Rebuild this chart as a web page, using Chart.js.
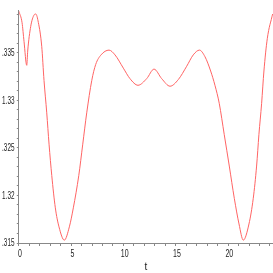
<!DOCTYPE html>
<html>
<head>
<meta charset="utf-8">
<script src="https://cdn.jsdelivr.net/npm/chart.js@4"></script>
<style>
    html, body { margin: 0; padding: 0; background: #fff; }
    #chart-box { width: 273px; height: 273px; }
</style>
</head>
<body>
<div id="chart-box"><canvas id="chart"></canvas></div>
<script>
// values
const tValues = [0.00, 0.31, 0.50, 0.76, 0.85, 1.14, 1.46, 1.62, 1.87, 2.19, 2.41, 2.67, 2.89, 3.15,
    3.49, 3.84, 4.35, 4.83, 5.21, 5.73, 6.11, 6.49, 6.97, 7.35, 7.86, 8.62, 9.19, 9.99, 10.62,
    11.39, 12.22, 12.92, 13.65, 14.45, 15.24, 16.04, 16.67, 17.26, 17.79, 18.33, 18.74, 19.15,
    19.63, 20.11, 20.59, 21.04, 21.45, 21.99, 22.40, 22.72, 22.94, 23.20, 23.42, 23.74, 24.25];
const yValues = [1.3394, 1.3382, 1.3362, 1.3337, 1.3352, 1.3378, 1.3390, 1.3391, 1.3382, 1.3357,
    1.3321, 1.3287, 1.3254, 1.3221, 1.3187, 1.3167, 1.3153, 1.3167, 1.3187, 1.3221, 1.3254,
    1.3287, 1.3321, 1.3338, 1.3348, 1.3353, 1.3348, 1.3334, 1.3323, 1.3316, 1.3323, 1.3333,
    1.3323, 1.3315, 1.3322, 1.3336, 1.3348, 1.3353, 1.3346, 1.3331, 1.3316, 1.3297, 1.3264,
    1.3231, 1.3197, 1.3170, 1.3153, 1.3170, 1.3197, 1.3231, 1.3264, 1.3297, 1.3331, 1.3365, 1.3391];

const xTickValues = [0, 5, 10, 15, 20];
const xTickLabels = ['0', '5', '10', '15', '20'];
const yTickValues = [1.315, 1.32, 1.325, 1.33, 1.335];
const yTickLabels = ['.315', '1.32', '.325', '1.33', '.335'];

const FONT = { family: '"Liberation Sans", sans-serif', size: 10 };

// the original uses a very narrow font, so labels get squeezed sideways
const narrowLabels = {
    id: 'narrowLabels',
    afterDraw(chart) {
        const ctx = chart.ctx;
        const xs = chart.scales.x;
        const ys = chart.scales.y;
        ctx.save();
        ctx.fillStyle = '#222';
        ctx.font = '10px "Liberation Sans", sans-serif';
        ctx.textBaseline = 'middle';

        ctx.textAlign = 'right';
        yTickValues.forEach((v, i) => {
            ctx.save();
            ctx.translate(xs.left - 4.3, ys.getPixelForValue(v) + 0.5);
            ctx.scale(0.64, 1);
            ctx.fillText(yTickLabels[i], 0, 0);
            ctx.restore();
        });

        ctx.textAlign = 'center';
        xTickValues.forEach((v, i) => {
            ctx.save();
            ctx.translate(xs.getPixelForValue(v) + 1.2, ys.bottom + 11.5);
            ctx.scale(0.7, 1);
            ctx.fillText(xTickLabels[i], 0, 0);
            ctx.restore();
        });
        ctx.restore();
    }
};

function createChart(canvas) {
    const points = tValues.map((t, i) => ({ x: t, y: yValues[i] }));

    return new Chart(canvas, {
        type: 'line',
        data: {
            datasets: [{
                data: points,
                borderColor: 'rgb(255,100,100)',
                borderWidth: 1,
                pointRadius: 0,
                cubicInterpolationMode: 'monotone',
                fill: false
            }]
        },
        options: {
            responsive: true,
            maintainAspectRatio: false,
            animation: false,
            layout: { padding: 0 },
            plugins: { legend: { display: false }, tooltip: { enabled: false } },
            scales: {
                x: {
                    type: 'linear',
                    min: 0,
                    max: 24.28,
                    afterBuildTicks: (scale) => {
                        // minor tick every unit
                        const ticks = [];
                        for (let v = 0; v <= 24; v++) ticks.push({ value: v });
                        scale.ticks = ticks;
                    },
                    afterFit: (scale) => { scale.height = 30; },
                    ticks: { autoSkip: false, maxRotation: 0, callback: () => '' },
                    grid: { drawOnChartArea: false, tickLength: 3, color: '#888' },
                    border: { color: '#888' },
                    title: {
                        display: true,
                        text: 't',
                        color: '#222',
                        font: FONT,
                        padding: { top: 0, bottom: 0 }
                    }
                },
                y: {
                    type: 'linear',
                    min: 1.315,
                    max: 1.3395,
                    afterBuildTicks: (scale) => {
                        const ticks = [];
                        for (let k = 0; k <= 24; k++) ticks.push({ value: 1.315 + k * 0.001 });
                        scale.ticks = ticks;
                    },
                    afterFit: (scale) => { scale.width = 18.8; },
                    ticks: { autoSkip: false, callback: () => '' },
                    grid: { drawOnChartArea: false, tickLength: 2, color: '#888' },
                    border: { color: '#888' }
                }
            }
        },
        plugins: [narrowLabels]
    });
}

window.onload = function() {
    createChart(document.getElementById('chart'));
};
</script>
</body>
</html>
